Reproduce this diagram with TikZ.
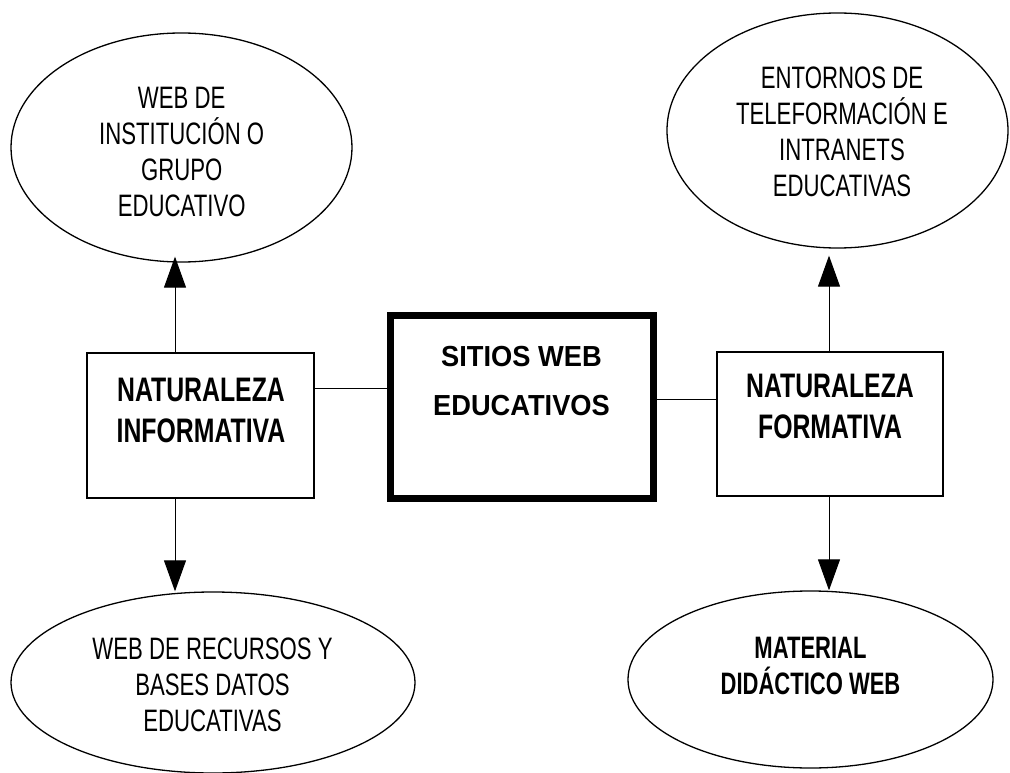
\documentclass[tikz,border=0pt]{standalone}
\usepackage{fontspec}
\setmainfont{Liberation Sans}
\newfontfamily\narrowfont[FakeStretch=0.715]{Liberation Sans}
\newfontfamily\narrowbold[FakeStretch=0.73]{Liberation Sans Bold}
\newfontfamily\ellbold[FakeStretch=0.71]{Liberation Sans Bold}
\newfontfamily\widebold[FakeStretch=0.94]{Liberation Sans Bold}
\usetikzlibrary{arrows.meta,shapes.geometric}
\tikzset{
  ell/.style={draw, ellipse, line width=1.3pt, inner sep=0pt},
  ellipsetext/.style={align=center, inner sep=0pt, font=\narrowfont\fontsize{31}{36}\selectfont},
  ellipsebold/.style={align=center, inner sep=0pt, font=\ellbold\fontsize{31}{36.5}\selectfont},
  sidebox/.style={draw, rectangle, line width=1.2pt, inner sep=0pt},
  sidetext/.style={align=center, inner sep=0pt, font=\narrowbold\fontsize{34}{40.5}\selectfont},
  mainbox/.style={draw, rectangle, line width=7pt, inner sep=0pt},
  maintext/.style={align=center, inner sep=0pt, font=\widebold\fontsize{29}{49}\selectfont},
  link/.style={line width=1pt},
  arr/.style={line width=1pt, -{Triangle[width=22pt,length=31pt]}}
}
\begin{document}
\begin{tikzpicture}[x=1pt,y=-1pt]
\useasboundingbox (0,0) rectangle (1010,773);
% ellipses
\node[ell, minimum width=341pt, minimum height=229pt] (tl) at (181.5,147.5) {};
\node[ellipsetext] (tltext) at (181.7,152) {WEB DE\\INSTITUCIÓN O\\GRUPO\\EDUCATIVO};
\node[ell, minimum width=341pt, minimum height=235pt] (tr) at (837.5,130.5) {};
\node[ellipsetext] (trtext) at (842,131.5) {ENTORNOS DE\\TELEFORMACIÓN E\\INTRANETS\\EDUCATIVAS};
\node[ell, minimum width=404pt, minimum height=181pt] (bl) at (213,682.5) {};
\node[ellipsetext] (bltext) at (212.5,685) {WEB DE RECURSOS Y\\BASES DATOS\\EDUCATIVAS};
\node[ell, minimum width=365pt, minimum height=177pt] (br) at (810.5,679.5) {};
\node[ellipsebold] (brtext) at (810.5,666) {MATERIAL\\DIDÁCTICO WEB};
% boxes
\node[sidebox, minimum width=227pt, minimum height=145pt] (lb) at (200.5,425.5) {};
\node[sidetext] (lbtext) at (201,410.7) {NATURALEZA\\INFORMATIVA};
\node[sidebox, minimum width=226pt, minimum height=144pt] (rb) at (830,424) {};
\node[sidetext] (rbtext) at (830,406.7) {NATURALEZA\\FORMATIVA};
\node[mainbox, minimum width=263.5pt, minimum height=183pt] (cb) at (521.75,407) {};
\node[maintext] (cbtext) at (521.5,381.5) {SITIOS WEB\\EDUCATIVOS};
% connectors
\draw[link] ([yshift=37.5pt]lb.east) -- ([yshift=37.5pt]lb.east -| cb.west);
\draw[link] ([yshift=24.5pt]rb.west) -- ([yshift=24.5pt]rb.west -| cb.east);
\draw[arr, shorten >=-6pt] ([xshift=-25.5pt]lb.north) -- ([xshift=-25.5pt]lb.north |- tl.south);
\draw[arr] ([xshift=-25.5pt]lb.south) -- ([xshift=-25.5pt]lb.south |- bl.north);
\draw[arr, shorten >=7pt] ([xshift=-1pt]rb.north) -- ([xshift=-1pt]rb.north |- tr.south);
\draw[arr] ([xshift=-1pt]rb.south) -- ([xshift=-1pt]rb.south |- br.north);
\end{tikzpicture}
\end{document}
